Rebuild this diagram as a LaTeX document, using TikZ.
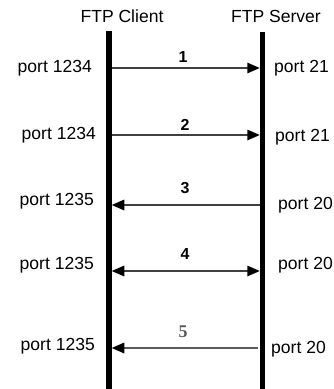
\documentclass[tikz,border=0pt]{standalone}
\usepackage{fontspec}
\setmainfont{Liberation Sans}
\newfontfamily\serifnum{Liberation Serif}
\usetikzlibrary{arrows.meta}
\definecolor{msgline}{HTML}{404040}
\definecolor{lateline}{HTML}{5A5A5A}
\begin{document}
\begin{tikzpicture}[x=1bp,y=-1bp,
  lifeline/.style={line width=5.5bp,black},
  msg/.style={line width=1.6bp,msgline},
  late/.style={line width=1.6bp,lateline},
  txt/.style={font=\fontsize{17.6}{20}\selectfont,inner sep=0pt},
  num/.style={font=\fontsize{16}{19}\selectfont\bfseries,inner sep=0pt},
  latenum/.style={font=\fontsize{18}{21}\selectfont\serifnum\bfseries,text=lateline,inner sep=0pt}]
\useasboundingbox (0,0) rectangle (334,389);

% headers
\node[txt] (client) at (122,16) {FTP Client};
\node[txt] (server) at (276,16) {FTP Server};

% lifelines
\coordinate (ctop) at (109,31);
\coordinate (cbot) at (109,389);
\coordinate (stop) at (262.5,32);
\coordinate (sbot) at (262.5,389);
\draw[lifeline] (ctop) -- (cbot);
\draw[lifeline] (stop) -- (sbot);

% message end points
\foreach \i/\y in {1/68,2/135,3/205,4/271,5/348}{
  \coordinate (c\i) at (111.75,\y);
  \coordinate (s\i) at (259.75,\y);
}

% messages
\draw[msg,-{Triangle[length=12.5bp,width=10.5bp,color=black]}] (c1) -- (s1);
\draw[msg,-{Triangle[length=12.5bp,width=10.5bp,color=black]}] (c2) -- (s2);
\draw[msg,-{Triangle[length=12.5bp,width=10.5bp,color=black]}] (s3) -- (c3);
\draw[msg,{Triangle[length=12.5bp,width=10.5bp,color=black]}-{Triangle[length=12.5bp,width=10.5bp,color=black]}] (c4) -- (s4);
\draw[late,-{Triangle[length=12.5bp,width=10.5bp,color=black]}] ([xshift=-2bp]s5) -- (c5);

% message numbers
\node[num] (n1) at (183,57) {1};
\node[num] (n2) at (185,125) {2};
\node[num] (n3) at (185,188) {3};
\node[num] (n4) at (185,254) {4};
\node[latenum] (n5) at (183,332) {5};

% client ports
\node[txt,anchor=east] (cp1) at (92,68) {port 1234};
\node[txt,anchor=east] (cp2) at (96,135) {port 1234};
\node[txt,anchor=east] (cp3) at (94,201) {port 1235};
\node[txt,anchor=east] (cp4) at (94,265) {port 1235};
\node[txt,anchor=east] (cp5) at (95,346) {port 1235};

% server ports
\node[txt,anchor=west] (sp1) at (274,68) {port 21};
\node[txt,anchor=west] (sp2) at (275,137) {port 21};
\node[txt,anchor=west] (sp3) at (278,205) {port 20};
\node[txt,anchor=west] (sp4) at (278,265) {port 20};
\node[txt,anchor=west] (sp5) at (271,349) {port 20};
\end{tikzpicture}
\end{document}
